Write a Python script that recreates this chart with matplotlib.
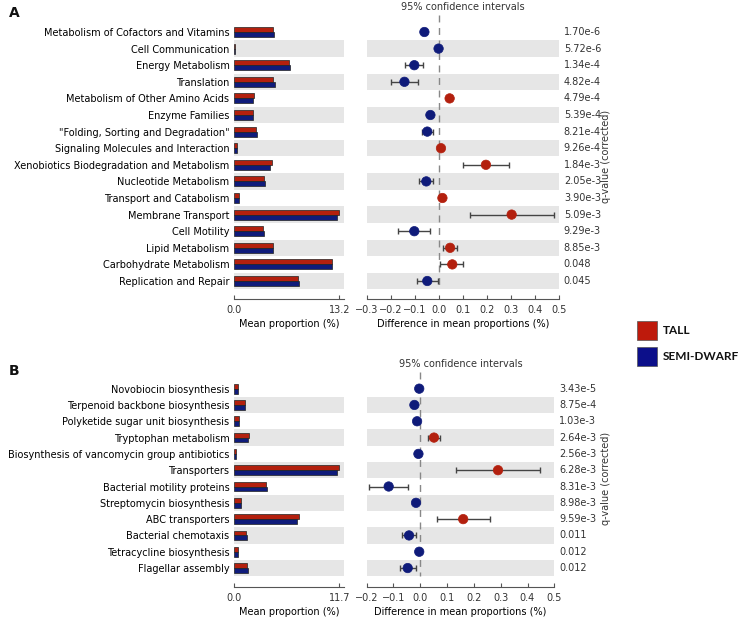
import matplotlib

matplotlib.use("Agg")
import matplotlib.pyplot as plt  # noqa: E402
from matplotlib.patches import Rectangle  # noqa: E402
import numpy as np  # noqa: E402

plt.rcParams.update({"font.family": "DejaVu Sans", "font.size": 7.0, "text.color": "#333333"})

W, H = 748, 617
TALL = "#B3200E"
SEMI = "#0F1B7A"
BAND = "#E6E6E6"

# panel A: KEGG level 2
cats_a = [
    "Metabolism of Cofactors and Vitamins", "Cell Communication", "Energy Metabolism",
    "Translation", "Metabolism of Other Amino Acids", "Enzyme Families",
    '"Folding, Sorting and Degradation"', "Signaling Molecules and Interaction",
    "Xenobiotics Biodegradation and Metabolism", "Nucleotide Metabolism",
    "Transport and Catabolism", "Membrane Transport", "Cell Motility",
    "Lipid Metabolism", "Carbohydrate Metabolism", "Replication and Repair",
]
tall_a = [4.90, 0.05, 6.84, 4.83, 2.42, 2.36, 2.69, 0.31, 4.70, 3.78, 0.56, 13.2, 3.60, 4.90, 12.30, 7.97]
semi_a = [5.00, 0.05, 6.98, 5.10, 2.38, 2.40, 2.82, 0.30, 4.45, 3.86, 0.55, 12.9, 3.75, 4.83, 12.25, 8.15]
diff_a = [-0.060, -0.001, -0.102, -0.143, 0.045, -0.035, -0.048, 0.009, 0.196, -0.052, 0.015, 0.303, -0.102, 0.047, 0.056, -0.048]
lo_a = [-0.066, -0.003, -0.140, -0.200, 0.038, -0.041, -0.071, 0.005, 0.100, -0.082, 0.011, 0.131, -0.171, 0.019, 0.005, -0.092]
hi_a = [-0.054, 0.001, -0.064, -0.085, 0.052, -0.029, -0.023, 0.013, 0.293, -0.024, 0.019, 0.478, -0.035, 0.074, 0.102, -0.002]
q_a = ["1.70e-6", "5.72e-6", "1.34e-4", "4.82e-4", "4.79e-4", "5.39e-4", "8.21e-4", "9.26e-4",
       "1.84e-3", "2.05e-3", "3.90e-3", "5.09e-3", "9.29e-3", "8.85e-3", "0.048", "0.045"]

# panel B: KEGG level 3
cats_b = [
    "Novobiocin biosynthesis", "Terpenoid backbone biosynthesis",
    "Polyketide sugar unit biosynthesis", "Tryptophan metabolism",
    "Biosynthesis of vancomycin group antibiotics", "Transporters",
    "Bacterial motility proteins", "Streptomycin biosynthesis", "ABC transporters",
    "Bacterial chemotaxis", "Tetracycline biosynthesis", "Flagellar assembly",
]
tall_b = [0.40, 1.20, 0.48, 1.60, 0.21, 11.7, 3.50, 0.73, 7.16, 1.35, 0.36, 1.46]
semi_b = [0.41, 1.23, 0.50, 1.50, 0.22, 11.4, 3.62, 0.75, 7.02, 1.39, 0.37, 1.51]
diff_b = [-0.004, -0.022, -0.012, 0.051, -0.007, 0.290, -0.118, -0.016, 0.160, -0.042, -0.004, -0.047]
lo_b = [-0.006, -0.025, -0.015, 0.027, -0.009, 0.132, -0.190, -0.019, 0.061, -0.070, -0.006, -0.076]
hi_b = [-0.002, -0.019, -0.009, 0.073, -0.005, 0.447, -0.047, -0.013, 0.260, -0.016, -0.002, -0.016]
q_b = ["3.43e-5", "8.75e-4", "1.03e-3", "2.64e-3", "2.56e-3", "6.28e-3", "8.31e-3", "8.98e-3",
       "9.59e-3", "0.011", "0.012", "0.012"]


def rect(x0, y0, x1, y1):
    return [x0 / W, 1 - y1 / H, (x1 - x0) / W, (y1 - y0) / H]


def style_axis(ax, n, offset):
    ax.set_ylim(n - 0.5, -0.5)
    for s in ("top", "right", "left"):
        ax.spines[s].set_visible(False)
    ax.spines["bottom"].set_position(("outward", offset))
    ax.spines["bottom"].set_color("#555555")
    ax.tick_params(axis="x", direction="in", length=3, pad=4, colors="#555555", labelcolor="#333333")
    for i in range(1, n, 2):
        ax.axhspan(i - 0.5, i + 0.5, color=BAND, lw=0, zorder=0)


def draw_panel(fig, cats, tall, semi, diff, lo, hi, q, y_top, y_bot, ci_lim, ci_right, offset):
    n = len(cats)
    y = np.arange(n)

    ax = fig.add_axes(rect(234.3, y_top, 344.3, y_bot))
    style_axis(ax, n, offset)
    vmax = max(max(tall), max(semi))
    ax.set_xlim(0, vmax * 1.047)
    h = 0.3
    ax.barh(y - h / 2, tall, height=h, color=TALL, edgecolor="#222222", lw=0.5, zorder=2)
    ax.barh(y + h / 2, semi, height=h, color=SEMI, edgecolor="#222222", lw=0.5, zorder=2)
    ax.set_yticks(y, cats)
    ax.tick_params(axis="y", length=0, pad=3.5)
    ax.set_xticks([0, vmax], ["0.0", f"{vmax:.1f}"])
    ax.set_xlabel("Mean proportion (%)", labelpad=3)

    cx = fig.add_axes(rect(366.7, y_top, ci_right, y_bot))
    style_axis(cx, n, offset)
    cx.set_xlim(*ci_lim)
    cx.set_yticks([])
    ticks = np.round(np.arange(ci_lim[0], ci_lim[1] + 0.01, 0.1), 1)
    cx.set_xticks(ticks, [f"{t:.1f}".replace("-", "\u2212") for t in ticks])
    cx.set_xlabel("Difference in mean proportions (%)", labelpad=3)
    cx.plot([0, 0], [-1.0, n - 0.5], ls=(0, (5, 4)), color="#888888", lw=1, clip_on=False, zorder=1)
    diff = np.array(diff)
    err = [diff - np.array(lo), np.array(hi) - diff]
    cx.errorbar(diff, y, xerr=err, fmt="none", ecolor="#444444", elinewidth=1, capsize=2.5, zorder=3)
    colors = [TALL if d > 0 else SEMI for d in diff]
    cx.scatter(diff, y, s=46, c=colors, edgecolors=colors, lw=0.5, zorder=4)
    cx.set_title("95% confidence intervals", fontsize=7.0, pad=10)
    for i, t in enumerate(q):
        cx.annotate(t, xy=(1, i), xycoords=("axes fraction", "data"), xytext=(3.5, 0),
                    textcoords="offset points", va="center", ha="left")
    return ax, cx


fig = plt.figure(figsize=(W / 100, H / 100), dpi=100)
draw_panel(fig, cats_a, tall_a, semi_a, diff_a, lo_a, hi_a, q_a, 23.7, 289.3, (-0.3, 0.5), 559, 7)
draw_panel(fig, cats_b, tall_b, semi_b, diff_b, lo_b, hi_b, q_b, 380.5, 576.2, (-0.2, 0.5), 554.3, 8)

fig.text(606 / W, 1 - 156 / H, "q-value (corrected)", rotation=90, ha="center", va="center")
fig.text(606 / W, 1 - 478 / H, "q-value (corrected)", rotation=90, ha="center", va="center")
fig.text(9 / W, 1 - 13 / H, "A", fontsize=10, fontweight="bold", color="#111111", va="center")
fig.text(9 / W, 1 - 371 / H, "B", fontsize=10, fontweight="bold", color="#111111", va="center")

# legend
for yy, col, lab in [(321, "#BE1A0C", "TALL"), (347, "#0C0F8A", "SEMI-DWARF")]:
    fig.patches.append(Rectangle((637 / W, 1 - (yy + 19) / H), 20 / W, 19 / H,
                                 transform=fig.transFigure, facecolor=col, edgecolor="#555555", lw=0.5))
    fig.text(663 / W, 1 - (yy + 9.5) / H, lab, family="Lato", fontweight="bold", fontsize=8.5,
             color="#111111", va="center")

fig.savefig("out.png", dpi=100, facecolor="white")
